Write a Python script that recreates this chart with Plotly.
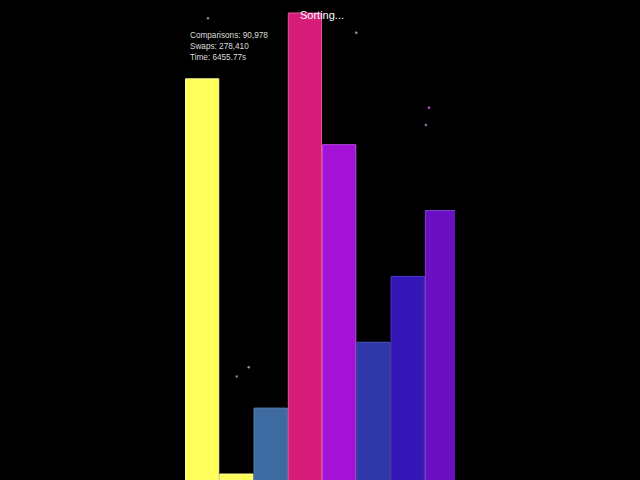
import plotly.graph_objects as go

# Data
positions = [0, 1, 2, 3, 4, 5, 6, 7]
values = [7, 1, 2, 8, 6, 3, 4, 5]
bar_colors = ["#FFFF5C", "#FFFF5C", "#3D6AA0", "#D81C79", "#A412D5", "#2E38A8", "#3516B6", "#6A10C2"]
line_colors = ["#FFFF9A", "#FFFF9A", "#5A84B8", "#E8559A", "#B94AE0", "#4A55BC", "#5038C6", "#8040D0"]

status_text = "Sorting..."
stats_lines = ["Comparisons: 90,978", "Swaps: 278,410", "Time: 6455.77s"]

particle_x = [0.17, 4.50, 6.62, 6.53, 1.36, 1.01]
particle_y = [7.92, 7.70, 6.56, 6.30, 2.62, 2.48]
particle_colors = ["#8888aa", "#9999bb", "#c050d0", "#8070b0", "#9090a0", "#a070b0"]

fig = go.Figure()
fig.add_trace(go.Bar(
    x=positions, y=values,
    marker=dict(color=bar_colors, line=dict(color=line_colors, width=1)),
    width=0.97, showlegend=False, hoverinfo="skip",
))
fig.add_trace(go.Scatter(
    x=particle_x, y=particle_y, mode="markers",
    marker=dict(size=2.5, color=particle_colors),
    showlegend=False, hoverinfo="skip",
))

fig.add_annotation(text=status_text, xref="paper", yref="paper", x=322/640, y=1 - 15/480,
                   showarrow=False, xanchor="center", yanchor="middle",
                   font=dict(family="Liberation Sans, Arial", size=11, color="#ffffff"))
for i, line in enumerate(stats_lines):
    fig.add_annotation(text=line, xref="paper", yref="paper", x=188/640, y=1 - (35.5 + 11 * i)/480,
                       showarrow=False, xanchor="left", yanchor="middle",
                       font=dict(family="Liberation Sans, Arial", size=8.2, color="#dddddd"))

fig.update_layout(
    width=640, height=480,
    margin=dict(l=0, r=0, t=0, b=0),
    paper_bgcolor="#000000", plot_bgcolor="#000000",
    xaxis=dict(domain=[185/640, 455/640], range=[-0.5, 7.38], visible=False, fixedrange=True),
    yaxis=dict(domain=[0, 1], range=[60/66, 541/66], visible=False, fixedrange=True),
    bargap=0.03,
)
fig.write_html("out.html", config={"displayModeBar": False})

with open("out.html", "r", encoding="utf-8") as f:
    html = f.read()
html = html.replace("<body>", "<body style=\"margin:0;padding:0;background:#000;overflow:hidden\">", 1)
with open("out.html", "w", encoding="utf-8") as f:
    f.write(html)
